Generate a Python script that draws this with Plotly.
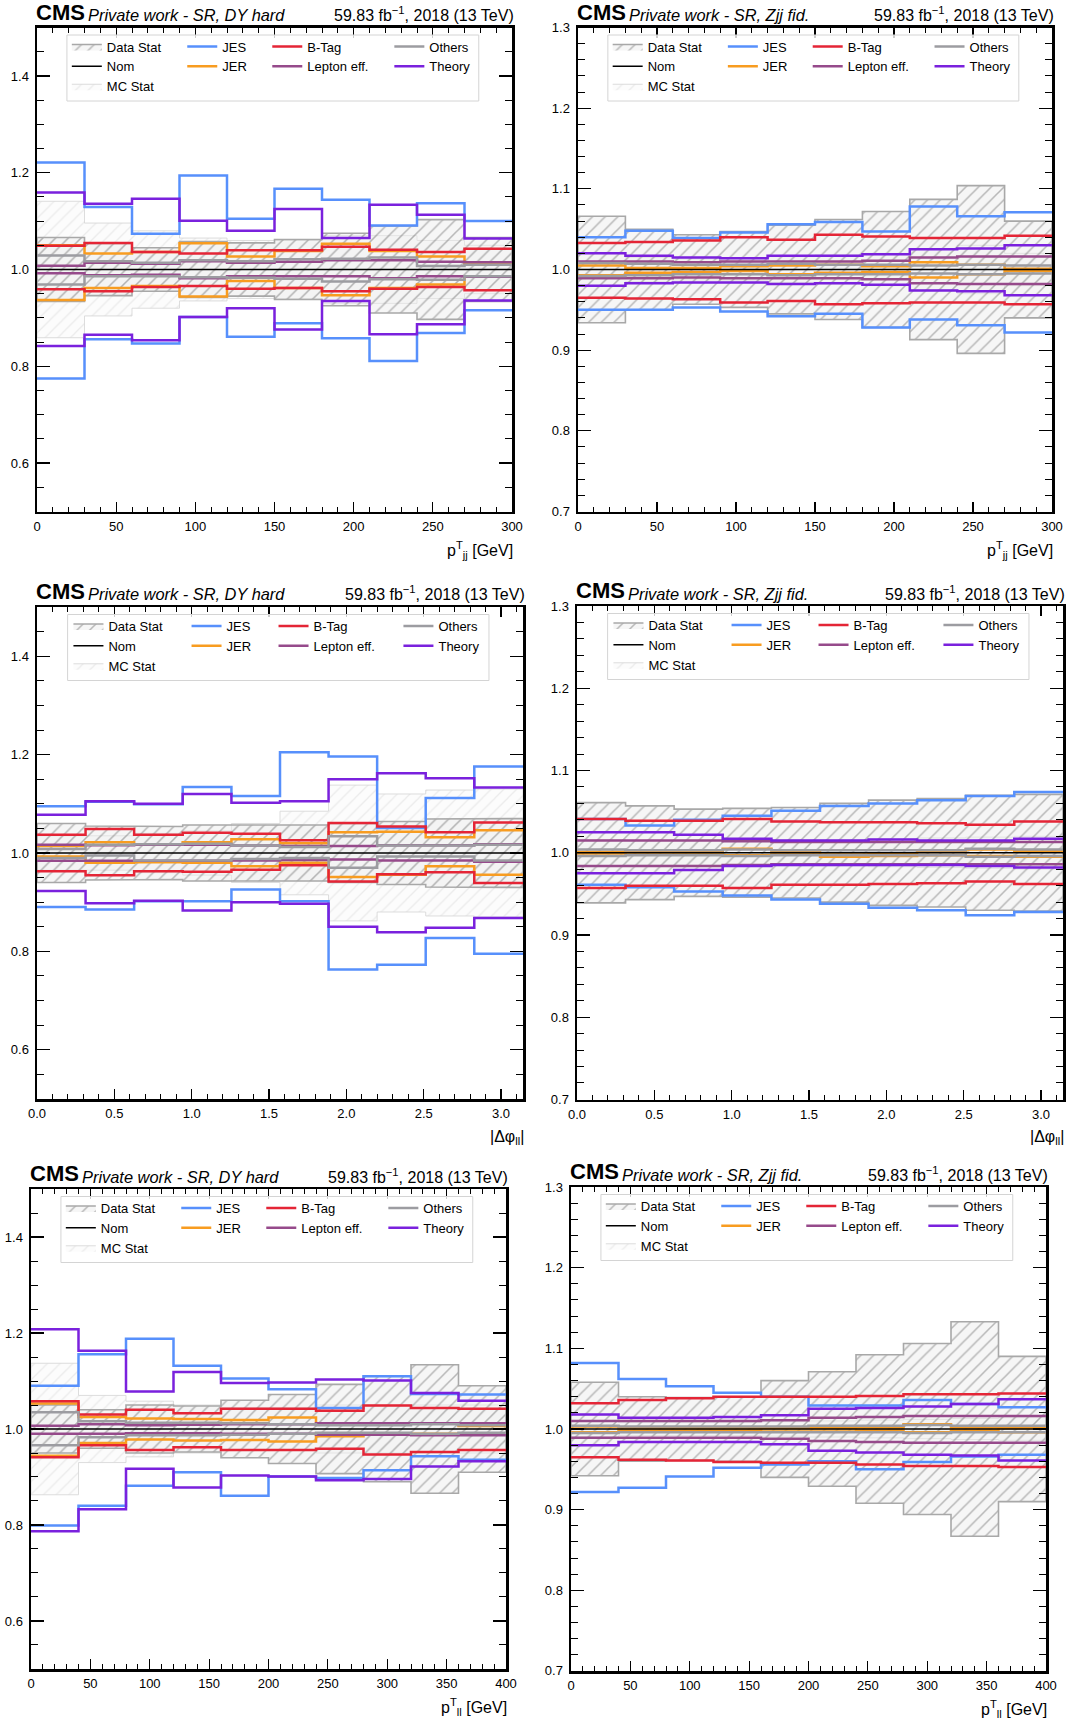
import plotly.graph_objects as go

FONT = "Liberation Sans, Arial, Helvetica, sans-serif"
W, H = 1067, 1722

# ---------------- bin edges (x categories) ----------------
pjj_edges = [0, 30, 60, 90, 120, 150, 180, 210, 240, 270, 300]
dphi_edges = [0.0, 0.314, 0.628, 0.942, 1.257, 1.571, 1.885, 2.199, 2.513, 2.827, 3.142]
pll_edges = [0, 40, 80, 120, 160, 200, 240, 280, 320, 360, 400]
nom_ratio = [1.0, 1.0, 1.0, 1.0, 1.0, 1.0, 1.0, 1.0, 1.0, 1.0]

# ---------------- top-left: DY hard, pT_jj ----------------
tl_jes_up = [1.221, 1.129, 1.074, 1.194, 1.105, 1.167, 1.144, 1.091, 1.137, 1.100]
tl_jes_dn = [0.775, 0.856, 0.847, 0.902, 0.861, 0.889, 0.858, 0.811, 0.869, 0.916]
tl_jer_up = [1.050, 1.033, 1.036, 1.054, 1.027, 1.038, 1.053, 1.038, 1.027, 1.012]
tl_jer_dn = [0.937, 0.962, 0.966, 0.944, 0.976, 0.962, 0.947, 0.962, 0.969, 0.986]
tl_btag_up = [1.049, 1.055, 1.036, 1.033, 1.040, 1.040, 1.047, 1.041, 1.036, 1.043]
tl_btag_dn = [0.959, 0.955, 0.964, 0.966, 0.960, 0.962, 0.955, 0.960, 0.964, 0.957]
tl_lep_up = [1.008, 1.014, 1.012, 1.017, 1.014, 1.016, 1.019, 1.019, 1.016, 1.015]
tl_lep_dn = [0.992, 0.988, 0.989, 0.982, 0.986, 0.986, 0.986, 0.982, 0.986, 0.985]
tl_oth_up = [1.029, 1.017, 1.014, 1.019, 1.017, 1.021, 1.022, 1.025, 1.007, 1.010]
tl_oth_dn = [0.969, 0.986, 0.986, 0.984, 0.983, 0.981, 0.975, 0.980, 0.979, 0.986]
tl_thy_up = [1.159, 1.136, 1.146, 1.101, 1.080, 1.125, 1.065, 1.134, 1.113, 1.064]
tl_thy_dn = [0.842, 0.865, 0.854, 0.902, 0.920, 0.876, 0.935, 0.866, 0.887, 0.936]
tl_data_stat = [0.066, 0.054, 0.045, 0.058, 0.055, 0.062, 0.075, 0.090, 0.103, 0.066]
tl_mc_stat = [0.141, 0.096, 0.080, 0.065, 0.060, 0.060, 0.070, 0.070, 0.060, 0.050]

# ---------------- top-right: Zjj fid., pT_jj ----------------
tr_jes_up = [1.040, 1.048, 1.039, 1.046, 1.056, 1.059, 1.047, 1.078, 1.066, 1.071]
tr_jes_dn = [0.950, 0.950, 0.953, 0.948, 0.942, 0.945, 0.928, 0.938, 0.931, 0.922]
tr_jer_up = [1.005, 1.002, 1.002, 1.004, 1.005, 1.006, 1.004, 1.009, 1.006, 1.001]
tr_jer_dn = [0.993, 0.996, 0.997, 0.998, 0.994, 0.996, 0.997, 0.990, 0.994, 0.998]
tr_btag_up = [1.033, 1.034, 1.036, 1.040, 1.037, 1.043, 1.041, 1.039, 1.039, 1.042]
tr_btag_dn = [0.965, 0.964, 0.963, 0.959, 0.961, 0.957, 0.958, 0.959, 0.959, 0.957]
tr_lep_up = [1.010, 1.010, 1.009, 1.010, 1.010, 1.010, 1.011, 1.015, 1.016, 1.016]
tr_lep_dn = [0.989, 0.989, 0.990, 0.989, 0.989, 0.989, 0.988, 0.983, 0.982, 0.982]
tr_oth_up = [1.008, 1.007, 1.006, 1.006, 1.007, 1.006, 1.006, 1.005, 1.006, 1.005]
tr_oth_dn = [0.992, 0.993, 0.994, 0.994, 0.993, 0.994, 0.994, 0.995, 0.994, 0.995]
tr_thy_up = [1.020, 1.017, 1.015, 1.014, 1.017, 1.017, 1.019, 1.025, 1.026, 1.030]
tr_thy_dn = [0.980, 0.983, 0.984, 0.984, 0.982, 0.983, 0.981, 0.974, 0.973, 0.968]
tr_data_stat = [0.066, 0.050, 0.043, 0.047, 0.055, 0.062, 0.072, 0.087, 0.104, 0.060]
tr_mc_stat = [0.020, 0.015, 0.013, 0.014, 0.016, 0.018, 0.020, 0.025, 0.030, 0.020]

# ---------------- middle-left: DY hard, |dphi_ll| ----------------
ml_jes_up = [1.095, 1.104, 1.099, 1.134, 1.116, 1.205, 1.196, 1.051, 1.112, 1.176]
ml_jes_dn = [0.890, 0.885, 0.902, 0.902, 0.926, 0.902, 0.763, 0.773, 0.827, 0.795]
ml_jer_up = [1.014, 1.022, 1.017, 1.022, 1.028, 1.020, 1.042, 1.043, 1.032, 1.046]
ml_jer_dn = [0.993, 0.980, 0.981, 0.980, 0.973, 0.980, 0.951, 0.956, 0.973, 0.956]
ml_btag_up = [1.037, 1.049, 1.037, 1.041, 1.039, 1.026, 1.061, 1.054, 1.042, 1.062]
ml_btag_dn = [0.963, 0.955, 0.963, 0.962, 0.966, 0.975, 0.942, 0.957, 0.961, 0.939]
ml_lep_up = [1.017, 1.016, 1.017, 1.017, 1.015, 1.014, 1.014, 1.016, 1.016, 1.018]
ml_lep_dn = [0.984, 0.984, 0.984, 0.984, 0.985, 0.986, 0.987, 0.985, 0.985, 0.982]
ml_oth_up = [1.008, 1.017, 1.018, 1.019, 1.015, 1.012, 1.034, 1.015, 1.015, 1.017]
ml_oth_dn = [0.990, 0.995, 0.985, 0.985, 0.988, 0.990, 0.970, 0.993, 0.993, 0.985]
ml_thy_up = [1.078, 1.105, 1.100, 1.120, 1.102, 1.105, 1.150, 1.162, 1.152, 1.133]
ml_thy_dn = [0.923, 0.898, 0.903, 0.883, 0.900, 0.897, 0.850, 0.839, 0.848, 0.868]
ml_data_stat = [0.060, 0.055, 0.054, 0.057, 0.056, 0.057, 0.060, 0.064, 0.069, 0.070]
ml_mc_stat = [0.035, 0.035, 0.040, 0.045, 0.060, 0.085, 0.138, 0.120, 0.128, 0.130]

# ---------------- middle-right: Zjj fid., |dphi_ll| ----------------
mr_jes_up = [1.041, 1.033, 1.040, 1.045, 1.051, 1.057, 1.060, 1.064, 1.069, 1.074]
mr_jes_dn = [0.961, 0.958, 0.953, 0.948, 0.943, 0.938, 0.933, 0.930, 0.924, 0.928]
mr_jer_up = [1.001, 1.002, 1.001, 1.005, 1.001, 0.998, 0.999, 1.001, 1.004, 1.002]
mr_jer_dn = [0.999, 0.998, 0.998, 0.997, 0.998, 0.995, 0.996, 0.997, 0.996, 0.995]
mr_btag_up = [1.041, 1.039, 1.039, 1.041, 1.038, 1.037, 1.037, 1.036, 1.034, 1.038]
mr_btag_dn = [0.957, 0.960, 0.960, 0.957, 0.961, 0.961, 0.962, 0.963, 0.965, 0.962]
mr_lep_up = [1.015, 1.015, 1.015, 1.014, 1.013, 1.013, 1.013, 1.013, 1.013, 1.013]
mr_lep_dn = [0.984, 0.984, 0.984, 0.985, 0.986, 0.986, 0.986, 0.986, 0.986, 0.986]
mr_oth_up = [1.004, 1.003, 1.003, 1.004, 1.003, 1.003, 1.003, 1.003, 1.005, 1.004]
mr_oth_dn = [0.996, 0.997, 0.997, 0.996, 0.997, 0.997, 0.997, 0.997, 0.995, 0.996]
mr_thy_up = [1.025, 1.025, 1.022, 1.017, 1.015, 1.015, 1.016, 1.015, 1.015, 1.017]
mr_thy_dn = [0.975, 0.975, 0.979, 0.984, 0.985, 0.985, 0.985, 0.985, 0.984, 0.982]
mr_data_stat = [0.061, 0.057, 0.053, 0.054, 0.055, 0.060, 0.064, 0.066, 0.070, 0.071]
mr_mc_stat = [0.016, 0.015, 0.015, 0.015, 0.016, 0.016, 0.017, 0.018, 0.019, 0.020]

# ---------------- bottom-left: DY hard, pT_ll ----------------
bl_jes_up = [1.090, 1.156, 1.188, 1.132, 1.105, 1.083, 1.044, 1.110, 1.073, 1.072]
bl_jes_dn = [0.799, 0.840, 0.882, 0.910, 0.861, 0.901, 0.898, 0.914, 0.943, 0.936]
bl_jer_up = [1.053, 1.025, 1.022, 1.021, 1.019, 1.024, 1.012, 1.011, 1.011, 1.006]
bl_jer_dn = [0.944, 0.971, 0.978, 0.976, 0.977, 0.974, 0.985, 0.988, 0.990, 0.991]
bl_btag_up = [1.058, 1.030, 1.040, 1.033, 1.042, 1.042, 1.038, 1.049, 1.044, 1.042]
bl_btag_dn = [0.941, 0.966, 0.956, 0.962, 0.956, 0.956, 0.959, 0.947, 0.952, 0.956]
bl_lep_up = [1.007, 1.010, 1.008, 1.009, 1.010, 1.010, 1.012, 1.012, 1.012, 1.012]
bl_lep_dn = [0.990, 0.990, 0.991, 0.991, 0.990, 0.990, 0.988, 0.988, 0.987, 0.987]
bl_oth_up = [1.035, 1.016, 1.013, 1.013, 1.012, 1.010, 1.008, 1.008, 1.010, 1.008]
bl_oth_dn = [0.966, 0.983, 0.987, 0.987, 0.988, 0.990, 0.992, 0.992, 0.990, 0.992]
bl_thy_up = [1.208, 1.163, 1.078, 1.119, 1.096, 1.097, 1.103, 1.101, 1.075, 1.059]
bl_thy_dn = [0.787, 0.833, 0.917, 0.878, 0.903, 0.901, 0.893, 0.896, 0.922, 0.933]
bl_data_stat = [0.050, 0.040, 0.050, 0.048, 0.060, 0.072, 0.093, 0.110, 0.134, 0.090]
bl_mc_stat = [0.137, 0.070, 0.058, 0.050, 0.045, 0.045, 0.050, 0.050, 0.050, 0.050]

# ---------------- bottom-right: Zjj fid., pT_ll ----------------
br_jes_up = [1.082, 1.062, 1.053, 1.045, 1.040, 1.029, 1.029, 1.036, 1.031, 1.027]
br_jes_dn = [0.922, 0.927, 0.941, 0.952, 0.956, 0.960, 0.950, 0.959, 0.966, 0.968]
br_jer_up = [1.003, 1.002, 1.002, 1.002, 1.001, 1.001, 1.002, 1.006, 1.002, 1.001]
br_jer_dn = [0.996, 0.998, 0.998, 0.998, 0.997, 0.997, 0.998, 0.996, 0.998, 0.996]
br_btag_up = [1.032, 1.036, 1.038, 1.040, 1.040, 1.040, 1.041, 1.043, 1.043, 1.044]
br_btag_dn = [0.965, 0.962, 0.961, 0.959, 0.958, 0.958, 0.956, 0.954, 0.954, 0.953]
br_lep_up = [1.010, 1.010, 1.010, 1.010, 1.011, 1.014, 1.015, 1.016, 1.016, 1.016]
br_lep_dn = [0.989, 0.989, 0.989, 0.989, 0.988, 0.985, 0.984, 0.983, 0.983, 0.983]
br_oth_up = [1.004, 1.003, 1.003, 1.003, 1.003, 1.004, 1.004, 1.005, 1.004, 1.004]
br_oth_dn = [0.995, 0.996, 0.996, 0.996, 0.996, 0.996, 0.996, 0.995, 0.996, 0.996]
br_thy_up = [1.018, 1.014, 1.014, 1.015, 1.017, 1.025, 1.026, 1.028, 1.031, 1.037]
br_thy_dn = [0.980, 0.984, 0.984, 0.984, 0.981, 0.973, 0.971, 0.968, 0.967, 0.961]
br_data_stat = [0.058, 0.040, 0.039, 0.040, 0.060, 0.071, 0.092, 0.106, 0.133, 0.090]
br_mc_stat = [0.010, 0.008, 0.008, 0.008, 0.009, 0.010, 0.011, 0.012, 0.013, 0.014]

# ---------------- text ----------------
region_dy = "Private work - SR, DY hard"
region_zjj = "Private work - SR, Zjj fid."
lumi_text = "59.83 fb<sup>−1</sup>, 2018 (13 TeV)"
xtitle_pjj = "p<sup>T</sup><sub>jj</sub> [GeV]"
xtitle_dphi = "|Δφ<sub>ll</sub>|"
xtitle_pll = "p<sup>T</sup><sub>ll</sub> [GeV]"

SYST_NAMES = ["JES", "JER", "B-Tag", "Lepton eff.", "Others", "Theory"]
SYST_COLORS = ["#5790fc", "#f89c20", "#e42536", "#964a8b", "#9c9ca1", "#7a21dd"]
SYST_COL = [1, 1, 2, 2, 3, 3]  # legend column for each systematic

panels = [
    dict(edges=pjj_edges, region=region_dy, xtitle=xtitle_pjj,
         yr=(0.5, 1.5), ydt=0.2, ymin=0.05, xr=(0, 300), xdt=50, xmin=10, xfmt="d",
         box=(37, 512, 27.5, 511.5),
         syst=[(tl_jes_up, tl_jes_dn), (tl_jer_up, tl_jer_dn), (tl_btag_up, tl_btag_dn),
               (tl_lep_up, tl_lep_dn), (tl_oth_up, tl_oth_dn), (tl_thy_up, tl_thy_dn)],
         dstat=tl_data_stat, mstat=tl_mc_stat),
    dict(edges=pjj_edges, region=region_zjj, xtitle=xtitle_pjj,
         yr=(0.7, 1.3), ydt=0.1, ymin=0.02, xr=(0, 300), xdt=50, xmin=10, xfmt="d",
         box=(578, 1052, 27.5, 511.5),
         syst=[(tr_jes_up, tr_jes_dn), (tr_jer_up, tr_jer_dn), (tr_btag_up, tr_btag_dn),
               (tr_lep_up, tr_lep_dn), (tr_oth_up, tr_oth_dn), (tr_thy_up, tr_thy_dn)],
         dstat=tr_data_stat, mstat=tr_mc_stat),
    dict(edges=dphi_edges, region=region_dy, xtitle=xtitle_dphi,
         yr=(0.5, 1.5), ydt=0.2, ymin=0.05, xr=(0, 3.142), xdt=0.5, xmin=0.1, xfmt=".1f",
         box=(37, 523, 607, 1099),
         syst=[(ml_jes_up, ml_jes_dn), (ml_jer_up, ml_jer_dn), (ml_btag_up, ml_btag_dn),
               (ml_lep_up, ml_lep_dn), (ml_oth_up, ml_oth_dn), (ml_thy_up, ml_thy_dn)],
         dstat=ml_data_stat, mstat=ml_mc_stat),
    dict(edges=dphi_edges, region=region_zjj, xtitle=xtitle_dphi,
         yr=(0.7, 1.3), ydt=0.1, ymin=0.02, xr=(0, 3.142), xdt=0.5, xmin=0.1, xfmt=".1f",
         box=(577, 1063, 606, 1099.5),
         syst=[(mr_jes_up, mr_jes_dn), (mr_jer_up, mr_jer_dn), (mr_btag_up, mr_btag_dn),
               (mr_lep_up, mr_lep_dn), (mr_oth_up, mr_oth_dn), (mr_thy_up, mr_thy_dn)],
         dstat=mr_data_stat, mstat=mr_mc_stat),
    dict(edges=pll_edges, region=region_dy, xtitle=xtitle_pll,
         yr=(0.5, 1.5), ydt=0.2, ymin=0.05, xr=(0, 400), xdt=50, xmin=10, xfmt="d",
         box=(31, 506, 1189, 1669),
         syst=[(bl_jes_up, bl_jes_dn), (bl_jer_up, bl_jer_dn), (bl_btag_up, bl_btag_dn),
               (bl_lep_up, bl_lep_dn), (bl_oth_up, bl_oth_dn), (bl_thy_up, bl_thy_dn)],
         dstat=bl_data_stat, mstat=bl_mc_stat),
    dict(edges=pll_edges, region=region_zjj, xtitle=xtitle_pll,
         yr=(0.7, 1.3), ydt=0.1, ymin=0.02, xr=(0, 400), xdt=50, xmin=10, xfmt="d",
         box=(571, 1046, 1187, 1671),
         syst=[(br_jes_up, br_jes_dn), (br_jer_up, br_jer_dn), (br_btag_up, br_btag_dn),
               (br_lep_up, br_lep_dn), (br_oth_up, br_oth_dn), (br_thy_up, br_thy_dn)],
         dstat=br_data_stat, mstat=br_mc_stat),
]


def fx(px):
    return px / W


def fy(py):
    return 1 - py / H


def step_pair(edges, up, dn):
    x = list(edges) + [None] + list(edges)
    y = list(up) + [up[-1]] + [None] + list(dn) + [dn[-1]]
    return x, y


def band_poly(edges, center, err):
    n = len(center)
    xs, ys = [], []
    for i in range(n):
        xs += [edges[i], edges[i + 1]]
        ys += [center[i] + err[i], center[i] + err[i]]
    for i in reversed(range(n)):
        xs += [edges[i + 1], edges[i]]
        ys += [center[i] - err[i], center[i] - err[i]]
    xs.append(xs[0])
    ys.append(ys[0])
    return xs, ys


fig = go.Figure()
layout = dict(width=W, height=H,
              margin=dict(l=0, r=0, t=0, b=0, pad=0, autoexpand=False),
              paper_bgcolor="white", plot_bgcolor="white", showlegend=True,
              font=dict(family=FONT, color="black"))
annotations = []
shapes = []
LEG_FRACS = [0.147, 0.39, 0.569, 0.826]

for i, p in enumerate(panels):
    sfx = "" if i == 0 else str(i + 1)
    xa, ya = "x" + sfx, "y" + sfx
    x0, x1, y0, y1 = p["box"]
    wpx = x1 - x0
    leg_ids = []
    for c in range(4):
        k = i * 4 + c
        lid = "legend" if k == 0 else "legend%d" % (k + 1)
        leg_ids.append(lid)
        layout[lid] = dict(
            x=fx(x0 + LEG_FRACS[c] * wpx - 40), y=fy(y0 + 4),
            xref="paper", yref="paper", xanchor="left", yanchor="top",
            orientation="v", bgcolor="rgba(0,0,0,0)", borderwidth=0,
            font=dict(size=13, family=FONT, color="black"),
            itemwidth=30, tracegroupgap=0, traceorder="normal")
    e = p["edges"]
    # MC stat band
    bx, by = band_poly(e, nom_ratio, p["mstat"])
    fig.add_trace(go.Scatter(
        x=bx, y=by, xaxis=xa, yaxis=ya, mode="lines", fill="toself",
        fillpattern=dict(shape="/", fgcolor="rgba(195,195,195,0.6)",
                         bgcolor="rgba(248,248,248,0.4)", size=9, solidity=0.14),
        line=dict(color="rgba(215,215,215,0.85)", width=1),
        name="MC Stat", legend=leg_ids[0], legendrank=3, hoverinfo="skip"))
    # Data stat band
    bx, by = band_poly(e, nom_ratio, p["dstat"])
    fig.add_trace(go.Scatter(
        x=bx, y=by, xaxis=xa, yaxis=ya, mode="lines", fill="toself",
        fillpattern=dict(shape="/", fgcolor="rgba(95,95,95,0.85)",
                         bgcolor="rgba(236,236,236,0.45)", size=9, solidity=0.17),
        line=dict(color="#a8a8a8", width=1.6),
        name="Data Stat", legend=leg_ids[0], legendrank=1, hoverinfo="skip"))
    # systematics
    for s, (up, dn) in enumerate(p["syst"]):
        sx, sy = step_pair(e, up, dn)
        fig.add_trace(go.Scatter(
            x=sx, y=sy, xaxis=xa, yaxis=ya, mode="lines",
            line=dict(color=SYST_COLORS[s], width=2.5, shape="hv"),
            name=SYST_NAMES[s], legend=leg_ids[SYST_COL[s]], legendrank=10 + s,
            hoverinfo="skip", connectgaps=False))
    # nominal
    nx = list(e)
    ny = list(nom_ratio) + [nom_ratio[-1]]
    fig.add_trace(go.Scatter(
        x=nx, y=ny, xaxis=xa, yaxis=ya, mode="lines",
        line=dict(color="black", width=1.5, shape="hv"),
        name="Nom", legend=leg_ids[0], legendrank=2, hoverinfo="skip"))

    common = dict(showline=True, linewidth=2.5, linecolor="black", mirror="ticks",
                  ticks="inside", tickwidth=1.2, tickcolor="black",
                  showgrid=False, zeroline=False,
                  tickfont=dict(size=13, family=FONT, color="black"))
    layout["xaxis" + sfx] = dict(
        common, domain=[fx(x0), fx(x1)], range=list(p["xr"]), anchor=ya,
        tick0=0, dtick=p["xdt"], tickformat=p["xfmt"], ticklen=10,
        ticklabelstandoff=1,
        minor=dict(ticks="inside", ticklen=5, tickwidth=1, tickcolor="black",
                   dtick=p["xmin"], tick0=0, showgrid=False))
    layout["yaxis" + sfx] = dict(
        common, domain=[fy(y1), fy(y0)], range=[p["yr"][0] - 1e-4, p["yr"][1] + 1e-4],
        anchor=xa, tick0=0, dtick=p["ydt"], tickformat=".1f", ticklen=13,
        ticklabelstandoff=3,
        minor=dict(ticks="inside", ticklen=7, tickwidth=1, tickcolor="black",
                   dtick=p["ymin"], tick0=0, showgrid=False))

    # legend frame
    lx0, lx1 = fx(x0 + 0.063 * wpx), fx(x0 + 0.930 * wpx)
    ly0, ly1 = fy(y0 + 7.5), fy(y0 + 73.5)
    shapes.append(dict(type="rect", xref="paper", yref="paper",
                       x0=lx0, x1=lx1, y0=ly1, y1=ly0,
                       line=dict(color="#d4d4d4", width=1),
                       fillcolor="rgba(255,255,255,0.8)", layer="above"))
    # headers
    annotations.append(dict(text="<b>CMS</b>", x=fx(x0 - 3), y=fy(y0 - 1),
                            xref="paper", yref="paper", xanchor="left", yanchor="bottom",
                            showarrow=False, font=dict(size=22, family=FONT, color="black")))
    annotations.append(dict(text="<i>%s</i>" % p["region"], x=fx(x0 + 49), y=fy(y0 - 1.5),
                            xref="paper", yref="paper", xanchor="left", yanchor="bottom",
                            showarrow=False, font=dict(size=16.4, family=FONT, color="black")))
    annotations.append(dict(text=lumi_text, x=fx(x1 + 4), y=fy(y0 - 1.5),
                            xref="paper", yref="paper", xanchor="right", yanchor="bottom",
                            showarrow=False, font=dict(size=16, family=FONT, color="black")))
    annotations.append(dict(text=p["xtitle"], x=fx(x1 + 3), y=fy(y1 + 38),
                            xref="paper", yref="paper", xanchor="right", yanchor="middle",
                            showarrow=False, font=dict(size=16, family=FONT, color="black")))

layout["annotations"] = annotations
layout["shapes"] = shapes
fig.update_layout(**layout)
fig.write_html("out.html",
               config={"displayModeBar": False, "staticPlot": True},
               post_script="document.body.style.margin='0px';"
                           "document.body.style.padding='0px';"
                           "document.body.style.overflow='hidden';")
